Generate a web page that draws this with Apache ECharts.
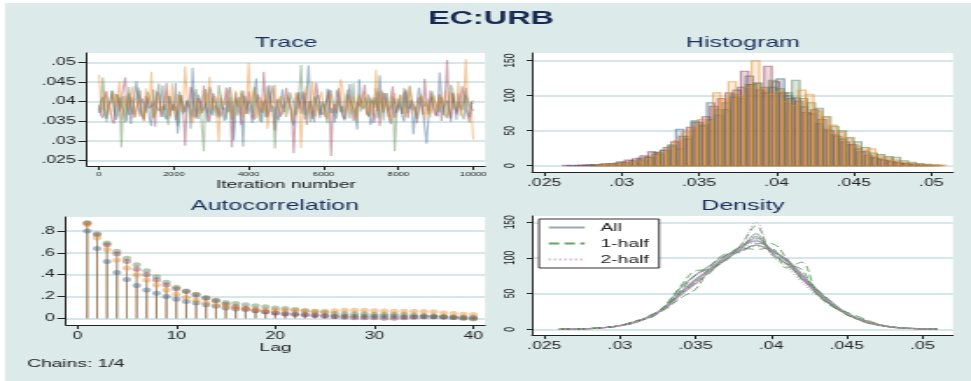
<!DOCTYPE html>
<html>
<head>
<meta charset="utf-8">
<script src="https://cdn.jsdelivr.net/npm/echarts@6.0.0/dist/echarts.min.js"></script>
<style>
  html, body { margin: 0; padding: 0; background: #fff; overflow: hidden; }
  /* the original is a stretched Stata graph, so draw narrow and stretch it the same way */
  #chart { width: 555px; height: 381px; transform: scaleX(1.7495); transform-origin: 0 0; }
</style>
</head>
<body>
<div id="chart"></div>
<script>
// ---- data ----
// trace: values at iterations 0,100,...,10000 and at the half steps 50,150,...,9950
const traceStep = 100
const traceChain1 = [
  .0371, .0412, .0356, .0398, .0433, .0365, .0389, .0347, .0421, .0384,
  .0452, .0362, .0397, .0409, .0338, .0391, .0376, .0441, .0355, .0402,
  .0388, .0319, .0417, .0373, .0396, .0486, .0362, .0405, .0381, .0349,
  .0427, .0392, .0358, .0411, .0374, .0437, .0302, .0398, .0369, .0415,
  .0384, .0346, .0459, .0377, .0393, .0361, .0418, .0388, .0352, .0431,
  .0379, .0401, .0339, .0424, .0386, .0367, .0492, .0375, .0409, .0358,
  .0396, .0433, .0371, .0347, .0413, .0389, .0362, .0445, .0383, .0329,
  .0402, .0378, .0418, .0355, .0394, .0467, .0372, .0386, .0343, .0409,
  .0391, .0364, .0426, .0381, .0317, .0399, .0438, .0375, .0357, .0412,
  .0387, .0474, .0366, .0403, .0349, .0392, .0421, .0378, .0435, .0361, .0395
]
const traceChain1Mid = [
  .0402, .0366, .0391, .0428, .0354, .0411, .0379, .0395, .0343, .0419,
  .0387, .0408, .0372, .0356, .0431, .0384, .0398, .0363, .0415, .0377,
  .0447, .0359, .0392, .0405, .0331, .0389, .0418, .0371, .0396, .0437,
  .0364, .0382, .0409, .0351, .0425, .0393, .0376, .0412, .0286, .0399,
  .0368, .0421, .0385, .0347, .0406, .0379, .0441, .0361, .0394, .0374,
  .0412, .0357, .0398, .0382, .0426, .0369, .0391, .0348, .0417, .0386,
  .0361, .0403, .0384, .0429, .0373, .0352, .0408, .0389, .0366, .0457,
  .0381, .0394, .0341, .0411, .0376, .0399, .0422, .0358, .0391, .0372,
  .0416, .0349, .0387, .0405, .0368, .0436, .0379, .0293, .0402, .0383,
  .0362, .0413, .0391, .0376, .0423, .0354, .0389, .0408, .0371, .0397
]
const traceChain2 = [
  .0392, .0358, .0427, .0381, .0344, .0413, .0375, .0461, .0366, .0399,
  .0385, .0429, .0352, .0402, .0378, .0336, .0418, .0389, .0447, .0363,
  .0394, .0371, .0412, .0288, .0386, .0423, .0357, .0398, .0441, .0374,
  .0353, .0408, .0382, .0364, .0436, .0397, .0372, .0415, .0341, .0390,
  .0426, .0367, .0401, .0384, .0476, .0359, .0393, .0327, .0411, .0378,
  .0435, .0387, .0269, .0404, .0369, .0421, .0383, .0356, .0448, .0391,
  .0373, .0409, .0262, .0395, .0434, .0366, .0381, .0417, .0351, .0399,
  .0388, .0443, .0362, .0404, .0375, .0338, .0423, .0387, .0412, .0359,
  .0396, .0369, .0431, .0383, .0407, .0345, .0391, .0458, .0376, .0401,
  .0363, .0419, .0385, .0506, .0357, .0398, .0372, .0439, .0381, .0347, .0403
]
const traceChain2Mid = [
  .0366, .0408, .0389, .0352, .0419, .0375, .0436, .0391, .0413, .0359,
  .0401, .0368, .0414, .0383, .0397, .0426, .0361, .0379, .0405, .0388,
  .0353, .0417, .0382, .0396, .0437, .0364, .0409, .0376, .0392, .0349,
  .0421, .0387, .0362, .0398, .0373, .0284, .0411, .0385, .0428, .0369,
  .0391, .0354, .0418, .0372, .0399, .0442, .0381, .0406, .0361, .0395,
  .0412, .0376, .0359, .0424, .0389, .0341, .0402, .0378, .0417, .0366,
  .0397, .0431, .0384, .0371, .0408, .0356, .0419, .0392, .0364, .0388,
  .0413, .0372, .0398, .0346, .0426, .0383, .0401, .0361, .0439, .0377,
  .0392, .0417, .0358, .0403, .0381, .0411, .0367, .0396, .0428, .0373,
  .0389, .0351, .0407, .0384, .0421, .0368, .0395, .0412, .0363, .0399
]
const traceChain3 = [
  .0385, .0461, .0348, .0403, .0376, .0419, .0284, .0392, .0437, .0369,
  .0408, .0381, .0356, .0425, .0394, .0373, .0446, .0361, .0399, .0414,
  .0377, .0338, .0421, .0388, .0405, .0359, .0432, .0391, .0274, .0415,
  .0368, .0397, .0442, .0379, .0354, .0411, .0386, .0365, .0428, .0393,
  .0402, .0371, .0416, .0349, .0389, .0439, .0374, .0281, .0408, .0383,
  .0361, .0424, .0396, .0377, .0493, .0355, .0401, .0387, .0418, .0366,
  .0392, .0345, .0429, .0382, .0406, .0371, .0414, .0357, .0447, .0389,
  .0375, .0411, .0363, .0398, .0434, .0381, .0352, .0422, .0386, .0274,
  .0407, .0369, .0392, .0441, .0378, .0356, .0415, .0388, .0367, .0426,
  .0395, .0373, .0408, .0358, .0443, .0384, .0399, .0365, .0417, .0391, .0376
]
const traceChain3Mid = [
  .0372, .0409, .0391, .0428, .0363, .0397, .0414, .0351, .0388, .0402,
  .0436, .0367, .0383, .0408, .0359, .0421, .0376, .0394, .0341, .0411,
  .0387, .0426, .0369, .0402, .0379, .0413, .0356, .0393, .0432, .0375,
  .0408, .0362, .0417, .0386, .0398, .0354, .0423, .0381, .0407, .0369,
  .0394, .0437, .0377, .0403, .0361, .0418, .0389, .0372, .0411, .0396,
  .0383, .0409, .0365, .0427, .0391, .0374, .0348, .0413, .0386, .0401,
  .0368, .0422, .0393, .0357, .0404, .0379, .0431, .0388, .0362, .0416,
  .0397, .0373, .0409, .0384, .0358, .0426, .0392, .0378, .0414, .0366,
  .0389, .0435, .0371, .0403, .0387, .0359, .0418, .0396, .0375, .0408,
  .0381, .0412, .0364, .0397, .0429, .0376, .0391, .0355, .0406, .0385
]
const traceChain4 = [
  .0468, .0379, .0407, .0362, .0423, .0391, .0354, .0416, .0385, .0439,
  .0371, .0398, .0349, .0412, .0476, .0366, .0403, .0387, .0428, .0357,
  .0395, .0419, .0374, .0489, .0382, .0345, .0409, .0368, .0431, .0392,
  .0377, .0414, .0299, .0401, .0386, .0436, .0363, .0397, .0421, .0373,
  .0498, .0389, .0358, .0412, .0376, .0331, .0405, .0443, .0381, .0367,
  .0417, .0393, .0371, .0426, .0282, .0399, .0384, .0451, .0362, .0408,
  .0387, .0356, .0419, .0378, .0402, .0439, .0369, .0394, .0413, .0351,
  .0398, .0427, .0383, .0366, .0481, .0391, .0374, .0409, .0346, .0422,
  .0385, .0403, .0361, .0437, .0379, .0395, .0418, .0353, .0408, .0389,
  .0372, .0416, .0394, .0363, .0426, .0381, .0452, .0369, .0508, .0387, .0304
]
const traceChain4Mid = [
  .0398, .0424, .0367, .0411, .0386, .0452, .0373, .0396, .0418, .0361,
  .0407, .0381, .0434, .0392, .0358, .0415, .0377, .0403, .0389, .0446,
  .0368, .0409, .0393, .0421, .0357, .0386, .0412, .0374, .0399, .0463,
  .0382, .0356, .0417, .0391, .0405, .0372, .0428, .0387, .0361, .0409,
  .0394, .0431, .0376, .0401, .0418, .0364, .0397, .0383, .0414, .0378,
  .0407, .0352, .0423, .0388, .0396, .0438, .0371, .0409, .0385, .0426,
  .0363, .0404, .0392, .0378, .0457, .0386, .0412, .0369, .0398, .0421,
  .0384, .0367, .0413, .0396, .0377, .0429, .0391, .0358, .0408, .0386,
  .0419, .0374, .0402, .0433, .0368, .0392, .0411, .0381, .0359, .0416,
  .0397, .0384, .0428, .0371, .0403, .0389, .0364, .0415, .0392, .0376
]

// histogram: first bin edge per chain, common bin width, densities
const histBinWidth = .0005
const histStart = [.0265, .0262, .0280, .0284]
const histChain1 = [0.4, 0.6, 0.8, 1.2, 2, 2.5, 3.8, 5, 7, 11, 12, 19, 22, 28, 52, 38, 64, 58, 90, 72,
  80, 98, 112, 128, 118, 104, 112, 124, 100, 97, 84, 74, 60, 52, 44, 38, 30, 24, 20, 12, 9, 7, 5, 3, 2, 1.2, 0.6]
const histChain2 = [0.5, 0, 0.8, 1.5, 1.2, 2.8, 3, 5.5, 8, 10, 14, 20, 18, 26, 34, 42, 55, 62, 70, 85,
  96, 104, 108, 135, 116, 108, 142, 120, 104, 96, 92, 76, 80, 66, 50, 42, 34, 30, 20, 15, 11, 8, 6, 4, 3, 1.8, 1, 0.5, 0.4]
const histChain3 = [1, 1.5, 2, 2.6, 4, 5, 8, 12, 16, 22, 30, 24, 42, 62, 56, 66, 80, 90, 102, 96,
  116, 118, 112, 122, 110, 104, 122, 96, 90, 82, 70, 56, 50, 40, 34, 26, 18, 16, 13, 12, 7, 5, 3, 2, 1]
const histChain4 = [1, 1.8, 2.5, 3.5, 5, 6.5, 10, 14, 18, 26, 36, 48, 54, 66, 62, 104, 96, 120, 100, 112,
  150, 110, 102, 106, 92, 86, 108, 102, 78, 70, 58, 48, 40, 28, 22, 24, 14, 11, 8, 5, 3, 2, 1.2, 0.8, 1]

// autocorrelation, lags 1..40
const acfChain1 = [.80, .64, .52, .42, .355, .30, .26, .23, .20, .175, .155, .14, .125, .11, .095, .085, .08, .07, .06, .05,
  .045, .04, .035, .03, .025, .02, .02, .02, .02, .02, .02, .018, .015, .015, .015, .015, .012, .01, .01, .01]
const acfChain2 = [.87, .765, .675, .59, .52, .45, .40, .35, .305, .27, .245, .215, .185, .16, .13, .105, .09, .075, .06, .05,
  .04, .035, .03, .025, .02, .015, .01, .005, .005, .005, 0, 0, .005, .01, .015, .015, .012, .008, .004, 0]
const acfChain3 = [.875, .775, .69, .615, .55, .49, .435, .38, .33, .285, .25, .22, .19, .165, .145, .135, .125, .115, .105, .095,
  .09, .08, .07, .06, .055, .045, .04, .04, .04, .035, .035, .035, .035, .03, .025, .02, .015, .01, 0, -.005]
const acfChain4 = [.86, .735, .63, .535, .46, .40, .35, .305, .26, .22, .19, .165, .14, .12, .105, .095, .085, .08, .075, .075,
  .075, .075, .07, .065, .065, .07, .075, .075, .075, .07, .068, .065, .065, .065, .062, .06, .05, .045, .038, .035]

// kernel densities on a common grid
const densityX = [.026, .027, .028, .029, .030, .031, .032, .033, .034, .035, .036, .037, .038,
  .039, .040, .041, .042, .043, .044, .045, .046, .047, .048, .049, .050, .051]
const densAll1 = [.2, .4, 1, 2.5, 5, 11, 18, 30, 52, 70, 84, 100, 114, 128, 112, 96, 76, 52, 34, 22, 14, 7, 3, 1.5, .6, .2]
const densAll2 = [.1, .5, 1.2, 2.2, 5.5, 10, 17, 32, 58, 76, 90, 104, 110, 118, 110, 98, 78, 56, 36, 21, 12, 6, 3, 1.2, .5, .2]
const densAll3 = [.2, .4, 1, 2.6, 4.8, 9, 19, 29, 48, 64, 82, 98, 112, 134, 108, 92, 72, 50, 34, 23, 13, 7.5, 3.5, 1.6, .7, .3]
const densAll4 = [.1, .3, .9, 2.3, 5, 10.5, 18, 31, 50, 68, 86, 102, 116, 124, 112, 98, 72, 54, 38, 22, 12, 6.5, 3, 1.4, .6, .2]
const densHalf1a = [.2, .5, 1.2, 2.8, 4.5, 12, 16, 34, 60, 82, 84, 98, 118, 145, 106, 92, 84, 50, 32, 24, 16, 8, 3, 1.8, .6, .2]
const densHalf1b = [.1, .4, 1, 2, 5.8, 9, 20, 28, 44, 56, 88, 106, 108, 120, 120, 100, 70, 56, 38, 20, 12, 6, 3.5, 1.2, .4, .1]
const densHalf1c = [.2, .3, .8, 2.6, 5.2, 11, 16, 30, 54, 76, 86, 96, 114, 112, 114, 86, 94, 52, 34, 20, 14, 7, 2.6, 1.4, .7, .2]
const densHalf1d = [.1, .5, 1.1, 2.4, 5, 10, 19, 32, 50, 66, 80, 104, 116, 130, 108, 96, 74, 55, 34, 23, 11, 6, 3.2, 1.5, .5, .2]
const densHalf2a = [.2, .4, 1, 2.5, 5, 10, 18, 30, 48, 66, 84, 100, 118, 150, 104, 88, 66, 48, 36, 22, 13, 7, 3.4, 1.6, .6, .2]
const densHalf2b = [.1, .3, .9, 2.3, 5.4, 10, 18, 30, 50, 70, 86, 102, 110, 116, 110, 98, 76, 54, 36, 22, 12, 6.6, 3, 1.4, .6, .2]
const densHalf2c = [.2, .4, 1.1, 2.6, 5, 10.5, 19, 31, 47, 64, 82, 98, 112, 122, 112, 96, 74, 52, 35, 22, 13, 7, 3.2, 1.5, .6, .2]
const densHalf2d = [.1, .4, 1, 2.4, 5, 10, 17, 29, 49, 68, 85, 101, 114, 126, 106, 94, 73, 53, 37, 23, 13, 6.8, 3.3, 1.5, .6, .2]

// tick labels
const traceXTicks = [0, 2000, 4000, 6000, 8000, 10000]
const traceYTicks = [.025, .03, .035, .04, .045, .05]
const histXTicks = [.025, .03, .035, .04, .045, .05]
const histYTicks = [0, 50, 100, 150]
const acfXTicks = [0, 10, 20, 30, 40]
const acfYTicks = [0, .2, .4, .6, .8]

// ---- styling ----
const SX = 971 / 555
const px = x => x / SX
const FONT = '"Liberation Sans", Arial, sans-serif'
const BG = '#dceaea'
const GRIDLINE = '#d6e7ea'
const NAVY = '#1b2f5c'
const chainRGB = [[60, 100, 140], [150, 60, 80], [90, 130, 80], [235, 140, 40]]
const rgba = (c, a) => `rgba(${chainRGB[c].join(',')},${a})`
const fmt = v => String(v).replace(/^0\./, '.')

const chart = echarts.init(document.getElementById('chart'))

function makeAxis(grid, min, max, ticks, o) {
  return {
    type: 'value', gridIndex: grid, min, max,
    name: o.name || '', nameLocation: 'middle', nameGap: o.nameGap || 12,
    nameTextStyle: { fontFamily: FONT, fontSize: 11, color: '#222' },
    axisLine: { show: true, onZero: false, lineStyle: { color: '#222', width: 1 } },
    axisTick: { show: true, customValues: ticks, length: o.tickLen || 4, lineStyle: { color: '#222' } },
    axisLabel: {
      customValues: ticks, formatter: fmt, color: '#222', fontFamily: FONT,
      fontSize: o.fontSize || 10, margin: o.margin || 6, rotate: o.rotate || 0
    },
    splitLine: { show: !!o.split, lineStyle: { color: GRIDLINE, width: 2 } }
  }
}

const grids = [
  { left: px(87), top: 53, width: px(398), height: 113 },
  { left: px(532), top: 53, width: px(421), height: 119 },
  { left: px(66), top: 217, width: px(419), height: 108 },
  { left: px(532), top: 216, width: px(421), height: 119 }
].map(g => Object.assign(g, { show: true, backgroundColor: '#fff', borderWidth: 0 }))

const series = []
const traceChains = [[traceChain1, traceChain1Mid], [traceChain2, traceChain2Mid],
  [traceChain3, traceChain3Mid], [traceChain4, traceChain4Mid]]
traceChains.forEach(([main, mid], c) => {
  const pts = []
  main.forEach((v, i) => {
    pts.push([i * traceStep, v])
    if (i < mid.length) pts.push([i * traceStep + traceStep / 2, mid[i]])
  })
  series.push({
    type: 'line', xAxisIndex: 0, yAxisIndex: 0, showSymbol: false, silent: true,
    data: pts,
    lineStyle: { color: rgba(c, .45), width: 1.1 }
  })
})

const histChains = [histChain1, histChain2, histChain3, histChain4]
histChains.forEach((hs, c) => {
  series.push({
    type: 'custom', xAxisIndex: 1, yAxisIndex: 1, silent: true,
    encode: { x: [0, 1], y: 2 },
    data: hs.map((h, k) => [histStart[c] + k * histBinWidth, histStart[c] + (k + 1) * histBinWidth, h]),
    renderItem: (params, api) => {
      const a = api.coord([api.value(0), api.value(2)])
      const b = api.coord([api.value(1), 0])
      return {
        type: 'rect',
        shape: { x: a[0], y: a[1], width: b[0] - a[0], height: b[1] - a[1] },
        style: { fill: rgba(c, c === 3 ? .16 : .2), stroke: rgba(c, .55), lineWidth: 1.1 }
      }
    }
  })
})

const acfChains = [acfChain1, acfChain2, acfChain3, acfChain4]
acfChains.forEach((vals, c) => {
  series.push({
    type: 'custom', xAxisIndex: 2, yAxisIndex: 2, silent: true,
    encode: { x: 0, y: 1 },
    data: vals.map((v, i) => [i + 1, v]),
    renderItem: (params, api) => {
      const a = api.coord([api.value(0), 0])
      const b = api.coord([api.value(0), api.value(1)])
      return {
        type: 'line',
        shape: { x1: a[0], y1: a[1], x2: b[0], y2: b[1] },
        style: { stroke: 'rgba(135,95,55,0.32)', lineWidth: 1 }
      }
    }
  })
})
acfChains.forEach((vals, c) => {
  series.push({
    type: 'scatter', xAxisIndex: 2, yAxisIndex: 2, silent: true,
    symbol: 'circle', symbolSize: 5,
    data: vals.map((v, i) => [i + 1, v]),
    itemStyle: { color: rgba(c, .55) }
  })
})

const densLines = [
  ['All', densAll1], ['All', densAll2], ['All', densAll3], ['All', densAll4],
  ['1-half', densHalf1a], ['1-half', densHalf1b], ['1-half', densHalf1c], ['1-half', densHalf1d],
  ['2-half', densHalf2a], ['2-half', densHalf2b], ['2-half', densHalf2c], ['2-half', densHalf2d]
]
const densStyle = {
  'All': { color: 'rgba(140,148,170,0.85)', width: 1.1, type: 'solid' },
  '1-half': { color: 'rgba(60,140,60,0.8)', width: .9, type: [6, 3] },
  '2-half': { color: 'rgba(210,140,180,0.9)', width: 1, type: [1, 2] }
}
densLines.forEach(([name, ys]) => {
  series.push({
    type: 'line', name, xAxisIndex: 3, yAxisIndex: 3, showSymbol: false, symbol: 'none',
    smooth: .35, silent: true,
    data: ys.map((y, i) => [densityX[i], y]),
    lineStyle: densStyle[name]
  })
})

const option = {
  animation: false,
  backgroundColor: '#fff',
  graphic: [
    { type: 'rect', z: -1, silent: true, shape: { x: px(5), y: 3, width: 560, height: 380 }, style: { fill: BG } },
    { type: 'text', x: px(491), y: 19, style: { text: 'EC:URB', fontFamily: FONT, fontSize: 18.5, fontWeight: 'bold', fill: '#172a52', align: 'center', verticalAlign: 'middle' } },
    { type: 'text', x: px(286), y: 43.5, style: { text: 'Trace', fontFamily: FONT, fontSize: 14.3, fill: NAVY, align: 'center', verticalAlign: 'middle' } },
    { type: 'text', x: px(743), y: 43.5, style: { text: 'Histogram', fontFamily: FONT, fontSize: 14.3, fill: NAVY, align: 'center', verticalAlign: 'middle' } },
    { type: 'text', x: px(275), y: 206, style: { text: 'Autocorrelation', fontFamily: FONT, fontSize: 14.3, fill: NAVY, align: 'center', verticalAlign: 'middle' } },
    { type: 'text', x: px(743), y: 206, style: { text: 'Density', fontFamily: FONT, fontSize: 14.3, fill: NAVY, align: 'center', verticalAlign: 'middle' } },
    { type: 'text', x: px(27), y: 364, style: { text: 'Chains: 1/4', fontFamily: FONT, fontSize: 11, fill: '#222', align: 'left', verticalAlign: 'middle' } }
  ],
  grid: grids,
  legend: {
    data: ['All', '1-half', '2-half'],
    orient: 'vertical', left: px(539), top: 219,
    backgroundColor: '#fff', borderColor: '#333', borderWidth: 1, borderRadius: 0,
    padding: [3, 6, 3, px(8)], itemWidth: px(36), itemHeight: 10, itemGap: 5,
    selectedMode: false,
    itemStyle: { opacity: 0 },
    textStyle: { fontFamily: FONT, fontSize: 11, color: '#222', padding: [0, 0, 0, 4] }
  },
  xAxis: [
    makeAxis(0, -321, 10313, traceXTicks, { fontSize: 5.5, margin: 5, name: 'Iteration number', nameGap: 13 }),
    makeAxis(1, .02421, .0514, histXTicks, { margin: 6 }),
    makeAxis(2, -1.14, 41.18, acfXTicks, { margin: 6.5, name: 'Lag', nameGap: 16 }),
    makeAxis(3, .02419, .05202, histXTicks, { margin: 6 })
  ],
  yAxis: [
    makeAxis(0, .02365, .05236, traceYTicks, { split: true, tickLen: 5, margin: 6.5 }),
    makeAxis(1, -9, 161, histYTicks, { split: true, tickLen: 3, margin: 8, rotate: 90, fontSize: 8.5 }),
    makeAxis(2, -.061, .928, acfYTicks, { split: true, tickLen: 5, margin: 6.5 }),
    makeAxis(3, -8, 158.8, histYTicks, { split: true, tickLen: 3, margin: 8, rotate: 90, fontSize: 8.5 })
  ],
  series
}

chart.setOption(option)
</script>
</body>
</html>
